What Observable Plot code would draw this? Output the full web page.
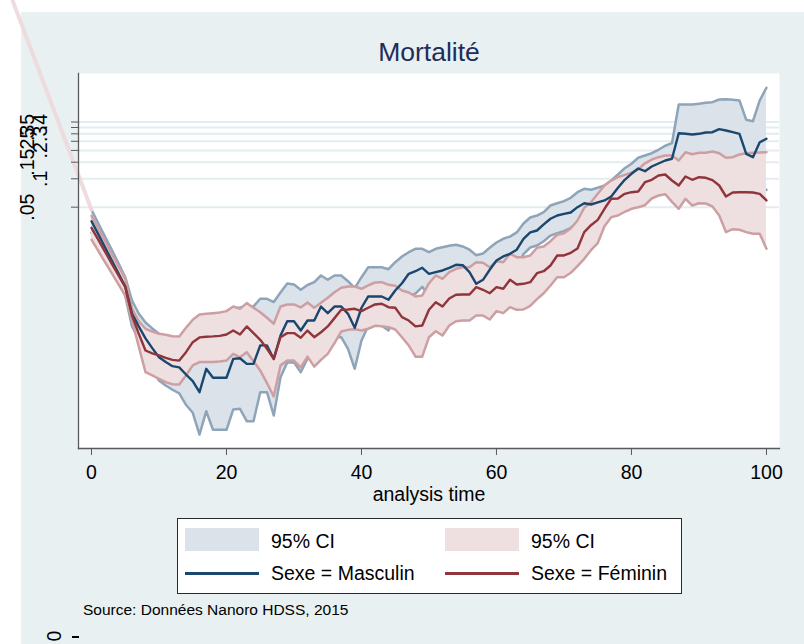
<!DOCTYPE html>
<html>
<head>
<meta charset="utf-8">
<script src="https://cdn.jsdelivr.net/npm/d3@7"></script>
<script src="https://cdn.jsdelivr.net/npm/@observablehq/plot@0.6"></script>
<style>
  html, body { margin: 0; padding: 0; background: #ffffff; }
  body { width: 804px; height: 644px; position: relative; overflow: hidden; font-family: "Liberation Sans", Arial, sans-serif; }
  #panel { position: absolute; left: 21px; top: 12px; width: 783px; height: 632px; background: #E8F0F2; }
  #chart { position: absolute; left: 0; top: 0; }
  .abs { position: absolute; white-space: nowrap; }
  #title { left: 0; width: 858px; top: 36px; text-align: center; font-size: 26.5px; color: #1F2D5A; line-height: 32px; }
  #xlabel { left: 0; width: 858px; top: 482px; text-align: center; font-size: 19.5px; color: #000; line-height: 24px; }
  #legend { left: 177px; top: 518px; width: 503px; height: 74px; background: #fff; border: 1px solid #2b2b2b; }
  .sw { position: absolute; width: 74px; height: 23px; }
  .ln { position: absolute; width: 74px; height: 2.5px; }
  .lt { position: absolute; font-size: 19.5px; line-height: 24px; color: #000; white-space: nowrap; }
  #source { left: 83px; top: 601px; font-size: 15.5px; color: #000; line-height: 18px; }
  #zero { left: 49px; top: 626px; font-size: 19.5px; line-height: 20px; transform: rotate(-90deg); transform-origin: 50% 50%; }
  #dash { left: 72px; top: 636px; width: 7px; height: 1.5px; background: #000; }
</style>
</head>
<body>
<div id="panel"></div>
<div id="chart"></div>
<div id="title" class="abs">Mortalité</div>
<div id="xlabel" class="abs">analysis time</div>
<div id="legend" class="abs">
  <div class="sw" style="left:7px; top:9px; background:#DCE2E9;"></div>
  <div class="lt" style="left:93px; top:10px;">95% CI</div>
  <div class="sw" style="left:267px; top:9px; background:#EEDFE0;"></div>
  <div class="lt" style="left:353px; top:10px;">95% CI</div>
  <div class="ln" style="left:7px; top:53px; background:#1A476F;"></div>
  <div class="lt" style="left:93px; top:42px;">Sexe = Masculin</div>
  <div class="ln" style="left:267px; top:53px; background:#90353B;"></div>
  <div class="lt" style="left:353px; top:42px;">Sexe = Féminin</div>
</div>
<div id="source" class="abs">Source: Données Nanoro HDSS, 2015</div>
<div id="zero" class="abs">0</div>
<div id="dash" class="abs"></div>
<script>
// ---- data ----
const time = [0,1,2,3,4,5,6,7,8,9,10,11,12,13,14,15,16,17,18,19,20,21,22,23,24,25,26,27,28,29,30,31,32,33,34,35,36,37,38,39,40,41,42,43,44,45,46,47,48,49,50,51,52,53,54,55,56,57,58,59,60,61,62,63,64,65,66,67,68,69,70,71,72,73,74,75,76,77,78,79,80,81,82,83,84,85,86,87,88,89,90,91,92,93,94,95,96,97,98,99,100];

const hazMasculin = [0.0355,0.0259,0.0188,0.0137,0.00997,0.00721,0.00373,0.00272,0.00203,0.00160,
0.00128,0.00114,0.00103,0.00100,0.000841,0.000714,0.000546,0.000966,0.000776,0.000776,
0.000776,0.00123,0.00125,0.00109,0.00109,0.00171,0.00171,0.00123,0.00218,0.00309,
0.00309,0.00246,0.00314,0.00314,0.00442,0.00376,0.00442,0.00442,0.00370,0.00263,
0.00429,0.00565,0.00565,0.00565,0.00521,0.00654,0.00781,0.00983,0.01047,0.01138,
0.00983,0.01022,0.01066,0.01138,0.01225,0.01213,0.01022,0.0077,0.00849,0.01084,
0.0136,0.0150,0.0160,0.0177,0.0231,0.0270,0.0283,0.0328,0.0377,0.0408,
0.0425,0.0439,0.0500,0.0551,0.0534,0.0561,0.0589,0.0649,0.0803,0.0976,
0.113,0.1286,0.1204,0.135,0.1453,0.1564,0.163,0.3045,0.300,0.295,
0.300,0.310,0.312,0.336,0.325,0.312,0.300,0.184,0.1695,0.244,
0.266];

const hiMasculin = [0.0469,0.0338,0.0244,0.0177,0.0127,0.00905,0.00512,0.00373,0.00299,0.00259,
0.00227,0.00201,0.00183,0.00191,0.00176,0.00155,0.00154,0.00272,0.00276,0.00276,
0.00276,0.00425,0.00431,0.00444,0.00444,0.00534,0.00534,0.00493,0.00623,0.00776,
0.00757,0.00665,0.00748,0.00801,0.00943,0.00849,0.00943,0.00943,0.00821,0.00692,
0.00905,0.01155,0.01155,0.01155,0.0110,0.01305,0.0150,0.01665,0.0181,0.0181,
0.01665,0.0181,0.0188,0.01947,0.01996,0.01915,0.0177,0.01548,0.01613,0.01855,
0.0211,0.0231,0.0244,0.0270,0.0336,0.0389,0.0408,0.0442,0.0521,0.0551,
0.0579,0.0629,0.0721,0.0783,0.0764,0.0803,0.0849,0.0959,0.111,0.1295,
0.1442,0.167,0.1767,0.1868,0.203,0.224,0.2385,0.614,0.614,0.614,
0.624,0.640,0.649,0.693,0.698,0.688,0.677,0.422,0.408,0.677,
0.923];

const loMasculin = [0.0269,0.0198,0.0145,0.0106,0.00781,0.00575,0.00272,0.00198,0.00137,0.000927,
0.000726,0.000643,0.000579,0.000529,0.000401,0.000330,0.000194,0.000343,0.000218,0.000218,
0.000218,0.000358,0.000364,0.000269,0.000269,0.000546,0.000546,0.000309,0.000787,0.00113,
0.00113,0.000889,0.00124,0.00139,0.00209,0.00178,0.00209,0.00209,0.001575,0.000966,
0.00193,0.00276,0.00276,0.00276,0.00247,0.00328,0.00407,0.0058,0.00606,0.00716,
0.0058,0.00577,0.00603,0.00665,0.00751,0.00768,0.00592,0.00383,0.00447,0.00634,
0.00877,0.00973,0.0105,0.01158,0.0159,0.01868,0.0196,0.0218,0.0250,0.0265,
0.0278,0.0302,0.0347,0.0392,0.0377,0.0392,0.0408,0.0439,0.0580,0.0735,
0.0885,0.0990,0.0821,0.0976,0.104,0.109,0.111,0.151,0.147,0.142,
0.1442,0.150,0.150,0.163,0.151,0.141,0.133,0.0803,0.0704,0.0883,
0.0764];

const hazFeminin = [0.0302,0.0226,0.0169,0.0126,0.00945,0.00709,0.00355,0.00227,0.00151,0.00141,
0.00134,0.00126,0.00120,0.00118,0.00145,0.00185,0.00208,0.00211,0.00213,0.00216,
0.00223,0.00246,0.00223,0.00272,0.00231,0.00196,0.001575,0.00123,0.00209,0.00231,
0.00231,0.00206,0.00246,0.00209,0.00236,0.00272,0.00333,0.00408,0.00411,0.00418,
0.00395,0.00429,0.00465,0.00473,0.00435,0.00429,0.00341,0.00314,0.00272,0.00278,
0.00408,0.00491,0.00442,0.00538,0.00589,0.00593,0.00593,0.00709,0.00665,0.00612,
0.00709,0.00682,0.00849,0.00757,0.0077,0.00801,0.00997,0.01047,0.01204,0.01537,
0.01537,0.01641,0.01823,0.0272,0.0322,0.0367,0.0481,0.0614,0.0618,0.0693,
0.0721,0.0733,0.0920,0.0976,0.1084,0.111,0.0959,0.0849,0.1058,0.0976,
0.104,0.1025,0.0967,0.0849,0.0649,0.0716,0.0721,0.0721,0.0716,0.0693,
0.0589];

const hiFeminin = [0.0405,0.0297,0.0218,0.0160,0.01178,0.00868,0.00421,0.00310,0.00257,0.00240,
0.00227,0.00222,0.00214,0.00213,0.00263,0.00320,0.00364,0.00370,0.00376,0.00382,
0.00395,0.00442,0.00418,0.00480,0.00429,0.00385,0.00336,0.00290,0.00442,0.00465,
0.00465,0.00432,0.00488,0.00429,0.00484,0.00547,0.00627,0.00698,0.00721,0.00721,
0.00682,0.00739,0.00795,0.00801,0.00751,0.00733,0.00654,0.00623,0.00565,0.00579,
0.00781,0.00943,0.0087,0.01022,0.01111,0.01155,0.01155,0.01305,0.01286,0.01155,
0.01337,0.01305,0.0160,0.01474,0.01474,0.01537,0.01855,0.01915,0.0218,0.0255,
0.0265,0.0297,0.0361,0.0493,0.0565,0.0693,0.0849,0.0959,0.104,0.110,
0.116,0.126,0.146,0.160,0.1695,0.1767,0.1767,0.1564,0.1915,0.182,
0.189,0.189,0.195,0.1868,0.167,0.1695,0.181,0.187,0.189,0.190,
0.1915];

const loFeminin = [0.0226,0.0172,0.0131,0.00997,0.00759,0.00579,0.00314,0.00167,0.000889,0.000821,
0.000757,0.000697,0.000663,0.000659,0.000821,0.00105,0.00114,0.00114,0.00114,0.001155,
0.00118,0.00139,0.00128,0.00145,0.00116,0.000927,0.00068,0.000491,0.00105,0.00118,
0.00118,0.00100,0.00130,0.00102,0.00120,0.00139,0.00181,0.00240,0.00250,0.00254,
0.00246,0.00257,0.00276,0.00273,0.00267,0.00252,0.00209,0.00171,0.00130,0.00130,
0.00209,0.00242,0.00218,0.00278,0.00309,0.00314,0.00314,0.00355,0.00355,0.00322,
0.00395,0.00376,0.00435,0.00408,0.00411,0.0045,0.00529,0.00612,0.00739,0.00905,
0.00905,0.01007,0.01184,0.01418,0.0175,0.0208,0.0314,0.0392,0.0408,0.0447,
0.0481,0.0500,0.0525,0.0618,0.0665,0.0687,0.0570,0.0481,0.0614,0.0521,
0.0551,0.0547,0.0509,0.0408,0.0272,0.0292,0.0288,0.0272,0.0261,0.0261,
0.0181];

// band outline that runs off the plot to the upper left in the reference
const tailTime = [-12, 0];
const tailHaz = [8.9, 0.0469];

const xTicks = [0, 20, 40, 60, 80, 100];
const yTicks = [0.05, 0.1, 0.15, 0.2, 0.25, 0.3, 0.35, 0.4];
const yTicksOuter = [0.05, 0.15, 0.25, 0.35];
const yTicksInner = [0.1, 0.2, 0.3, 0.4];

// ---- build ----
const rows = time.map((t, i) => ({
  t, m: hazMasculin[i], mLo: loMasculin[i], mHi: hiMasculin[i],
  f: hazFeminin[i], fLo: loFeminin[i], fHi: hiFeminin[i]
}));
const tail = tailTime.map((t, i) => ({t, v: tailHaz[i]}));
const fmt = d => String(d).replace(/^0\./, ".");

const navyBand = "#DCE2E9", navyEdge = "#8EA4B9", navyLine = "#1A476F";
const redBand = "#EEDFE0", redEdge = "#CD9FA2", redLine = "#90353B";

const chart = Plot.plot({
  width: 804,
  height: 644,
  marginLeft: 78,
  marginRight: 25,
  marginTop: 73,
  marginBottom: 196,
  style: {background: "transparent", fontFamily: "'Liberation Sans', Arial, sans-serif", fontSize: "19.5px", color: "#000", overflow: "visible"},
  x: {domain: [-1.926, 101.93], axis: null},
  y: {type: "log", domain: [0.000138, 1.308], axis: null},
  marks: [
    Plot.frame({fill: "#ffffff", stroke: null}),
    Plot.gridY(yTicks, {stroke: "#E3ECEF", strokeOpacity: 1, strokeWidth: 2}),
    Plot.areaY(rows, {x: "t", y1: "mLo", y2: "mHi", fill: navyBand, curve: "linear"}),
    Plot.lineY(rows, {x: "t", y: "mHi", stroke: navyEdge, strokeWidth: 2.5, strokeLinejoin: "round"}),
    Plot.lineY(rows, {x: "t", y: "mLo", stroke: navyEdge, strokeWidth: 2.5, strokeLinejoin: "round"}),
    Plot.areaY(rows, {x: "t", y1: "fLo", y2: "fHi", fill: redBand, curve: "linear"}),
    Plot.lineY(rows, {x: "t", y: "fHi", stroke: redEdge, strokeWidth: 2.5, strokeLinejoin: "round"}),
    Plot.lineY(rows, {x: "t", y: "fLo", stroke: redEdge, strokeWidth: 2.5, strokeLinejoin: "round"}),
    Plot.lineY(rows, {x: "t", y: "m", stroke: navyLine, strokeWidth: 2.4, strokeLinejoin: "round"}),
    Plot.lineY(rows, {x: "t", y: "f", stroke: redLine, strokeWidth: 2.4, strokeLinejoin: "round"}),
    Plot.line(tail, {x: "t", y: "v", stroke: "#EDD8DA", strokeWidth: 4, strokeOpacity: 0.9}),
    Plot.frame({anchor: "left", stroke: "#5a5a5a", strokeWidth: 1.3}),
    Plot.frame({anchor: "bottom", stroke: "#5a5a5a", strokeWidth: 1.3}),
    Plot.axisX(xTicks, {tickSize: 7, tickPadding: 10, stroke: "#5a5a5a", fill: "#000", fontSize: 19.5, label: null, tickFormat: d => String(d)}),
    Plot.axisY(yTicks, {tickSize: 7, stroke: "#5a5a5a", label: null, tickFormat: () => ""}),
    Plot.text(yTicksOuter, {y: d => d, text: fmt, frameAnchor: "left", dx: -45, rotate: -90, textAnchor: "middle", lineAnchor: "bottom", fontSize: 19.5, fill: "#000"}),
    Plot.text(yTicksInner, {y: d => d, text: fmt, frameAnchor: "left", dx: -32, rotate: -90, textAnchor: "middle", lineAnchor: "bottom", fontSize: 19.5, fill: "#000"})
  ]
});
document.getElementById("chart").appendChild(chart);
</script>
</body>
</html>
